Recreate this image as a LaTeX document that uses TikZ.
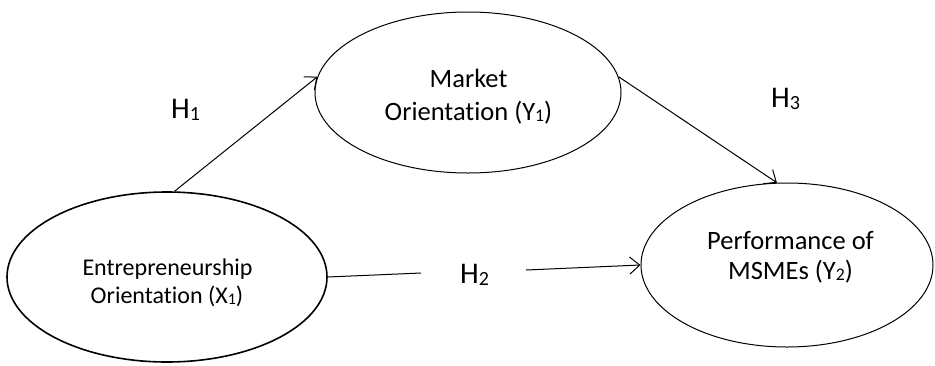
\documentclass[tikz,border=0pt]{standalone}
\usepackage{fontspec}
\setmainfont{Carlito}[Ligatures=NoCommon]
\usetikzlibrary{shapes.geometric,arrows.meta}

% subscript digit, set a little below the baseline
\newcommand{\subd}[1]{\raisebox{-0.07em}{\scalebox{0.67}{#1}}}

\tikzset{
  construct/.style={draw, ellipse, inner sep=0pt, line width=1pt},
  ctext/.style={anchor=base, inner sep=0pt},
  hyp/.style={anchor=base west, inner sep=0pt, font=\fontsize{30}{34}\selectfont},
  path/.style={line width=1pt},
  arr/.style={path, -{Straight Barb[length=10pt, width=17pt, line width=1pt]}}
}

\begin{document}
\begin{tikzpicture}[x=1pt, y=-1pt]
  \useasboundingbox (0,0) rectangle (935,365);

  % latent constructs
  \node[construct, line width=1.6pt, minimum width=320pt, minimum height=170pt]
    (eo) at (167,277) {};
  \node[construct, minimum width=306pt, minimum height=161pt]
    (mo) at (468,92.5) {};
  \node[construct, minimum width=292pt, minimum height=164pt]
    (pf) at (787,265) {};

  % construct names
  \begin{scope}[every node/.append style={font=\fontsize{24}{28}\selectfont}]
    \node[ctext] (eo1) at (167.5,275) {Entrepreneurship};
    \node[ctext] (eo2) at (167,303) {Orientation (X\subd{1})};
  \end{scope}
  \begin{scope}[every node/.append style={font=\fontsize{26.5}{32}\selectfont}]
    \node[ctext] (mo1) at (468.5,87) {Market};
    \node[ctext] (mo2) at (468.5,120) {Orientation (Y\subd{1})};
    \node[ctext] (pf1) at (790.5,249) {Performance of};
    \node[ctext] (pf2) at (790.5,279) {MSMEs (Y\subd{2})};
  \end{scope}

  % hypothesis labels
  \node[hyp] (h1) at (171,118) {H\subd{1}};
  \node[hyp] (h3) at (771,107) {H\subd{3}};
  \node[hyp] (h2) at (460,283) {H\subd{2}};

  % paths
  \coordinate (h2in) at (421,273);
  \coordinate (h2out) at (526,270);
  \draw[arr] (eo.85) -- (mo.174);
  \draw[arr] (mo.6) -- (pf.97);
  \draw[path] (eo.east) -- (h2in);
  \draw[arr] (h2out) -- (pf.west);
\end{tikzpicture}
\end{document}
